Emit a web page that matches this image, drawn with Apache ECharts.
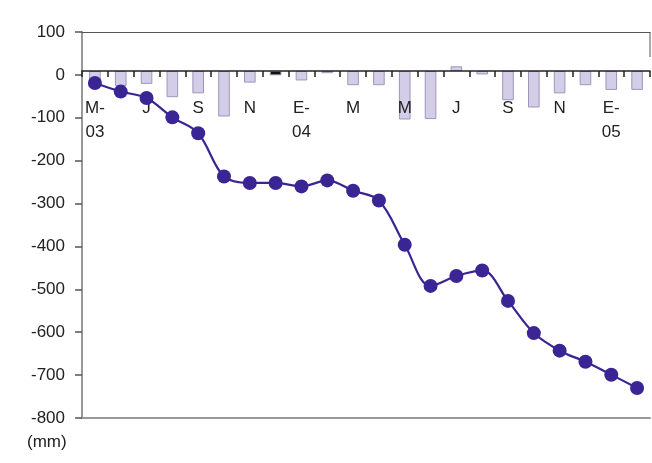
<!DOCTYPE html>
<html>
<head>
<meta charset="utf-8">
<script src="https://cdn.jsdelivr.net/npm/echarts@6/dist/echarts.min.js"></script>
<style>
html,body{margin:0;padding:0;background:#fff;}
#chart{width:652px;height:463px;}
</style>
</head>
<body>
<div id="chart"></div>
<script>
// Months May 2003 - Feb 2005 (Spanish initials)
var months = ['M-03','J','J','A','S','O','N','D','E-04','F','M','A','M','J','J','A','S','O','N','D','E-05','F'];
// Monthly bars (mm)
var monthly = [-28,-35,-30,-61,-52,-106,-27,-10,-22,-5,-33,-33,-113,-112,11,-8,-68,-85,-52,-33,-44,-44];
// Cumulative (mm)
var cumulative = [-19,-39,-54,-99,-136,-237,-252,-252,-260,-246,-270,-293,-396,-492,-469,-456,-527,-602,-643,-669,-699,-730];
var yTicks = [100,0,-100,-200,-300,-400,-500,-600,-700,-800];
var unitLabel = '(mm)';

var barColors = monthly.map(function(v,i){ return i===7 ? '#111111' : 'rgba(205,196,228,0.85)'; });

var chart = echarts.init(document.getElementById('chart'));
var font = 'Liberation Sans, Arial, sans-serif';
chart.setOption({
  animation:false,
  backgroundColor:'#ffffff',
  grid:{left:82,right:2,top:32,bottom:45,containLabel:false,outerBoundsMode:'none'},
  xAxis:[{
    type:'category',
    data:months,
    boundaryGap:true,
    position:'bottom',
    offset:-347,
    axisLine:{onZero:false,lineStyle:{color:'#222',width:1.5}},
    axisTick:{show:true,interval:0,length:6,lineStyle:{color:'#222',width:1.5}},
    axisLabel:{interval:1,margin:25,fontFamily:font,fontSize:17,color:'#222',lineHeight:24,
      formatter:function(v){return v.replace('-','-\n');}},
    splitLine:{show:false},
    z:3
  },{
    type:'category',data:months,position:'bottom',
    axisLine:{onZero:false,lineStyle:{color:'#999',width:2}},
    axisTick:{show:false},axisLabel:{show:false}
  },{
    type:'category',data:months,position:'top',
    axisLine:{onZero:false,lineStyle:{color:'#555',width:1}},
    axisTick:{show:false},axisLabel:{show:false}
  }],
  yAxis:[{
    type:'value',min:-800,max:100,interval:100,
    axisLine:{show:true,lineStyle:{color:'#999',width:2}},
    axisTick:{show:true,length:7,lineStyle:{color:'#555',width:1.5}},
    axisLabel:{fontFamily:font,fontSize:17,color:'#222',margin:17,
      formatter:function(v){return yTicks.indexOf(v)>=0 ? String(v) : '';}},
    splitLine:{show:false}
  },{
    type:'value',min:-809,max:91,show:false,splitLine:{show:false}
  }],
  graphic:[{
    type:'line',shape:{x1:650,y1:32,x2:650,y2:57},style:{stroke:'#555',lineWidth:1}
  },{
    type:'text',left:27,top:434,style:{text:unitLabel,font:'17px Liberation Sans, Arial, sans-serif',fill:'#222'}
  }],
  series:[{
    type:'bar',
    yAxisIndex:1,
    xAxisIndex:0,
    data:monthly.map(function(v,i){return {value:v,itemStyle:{color:barColors[i]}};}),
    barWidth:'45%',
    itemStyle:{borderColor:'#9d96b8',borderWidth:1},
    z:2
  },{
    type:'line',
    yAxisIndex:0,
    xAxisIndex:0,
    data:cumulative,
    smooth:0.35,
    symbol:'circle',
    symbolSize:14,
    lineStyle:{color:'#3b2494',width:2.2},
    itemStyle:{color:'#3b2494'},
    z:5
  }]
});
</script>
</body>
</html>
